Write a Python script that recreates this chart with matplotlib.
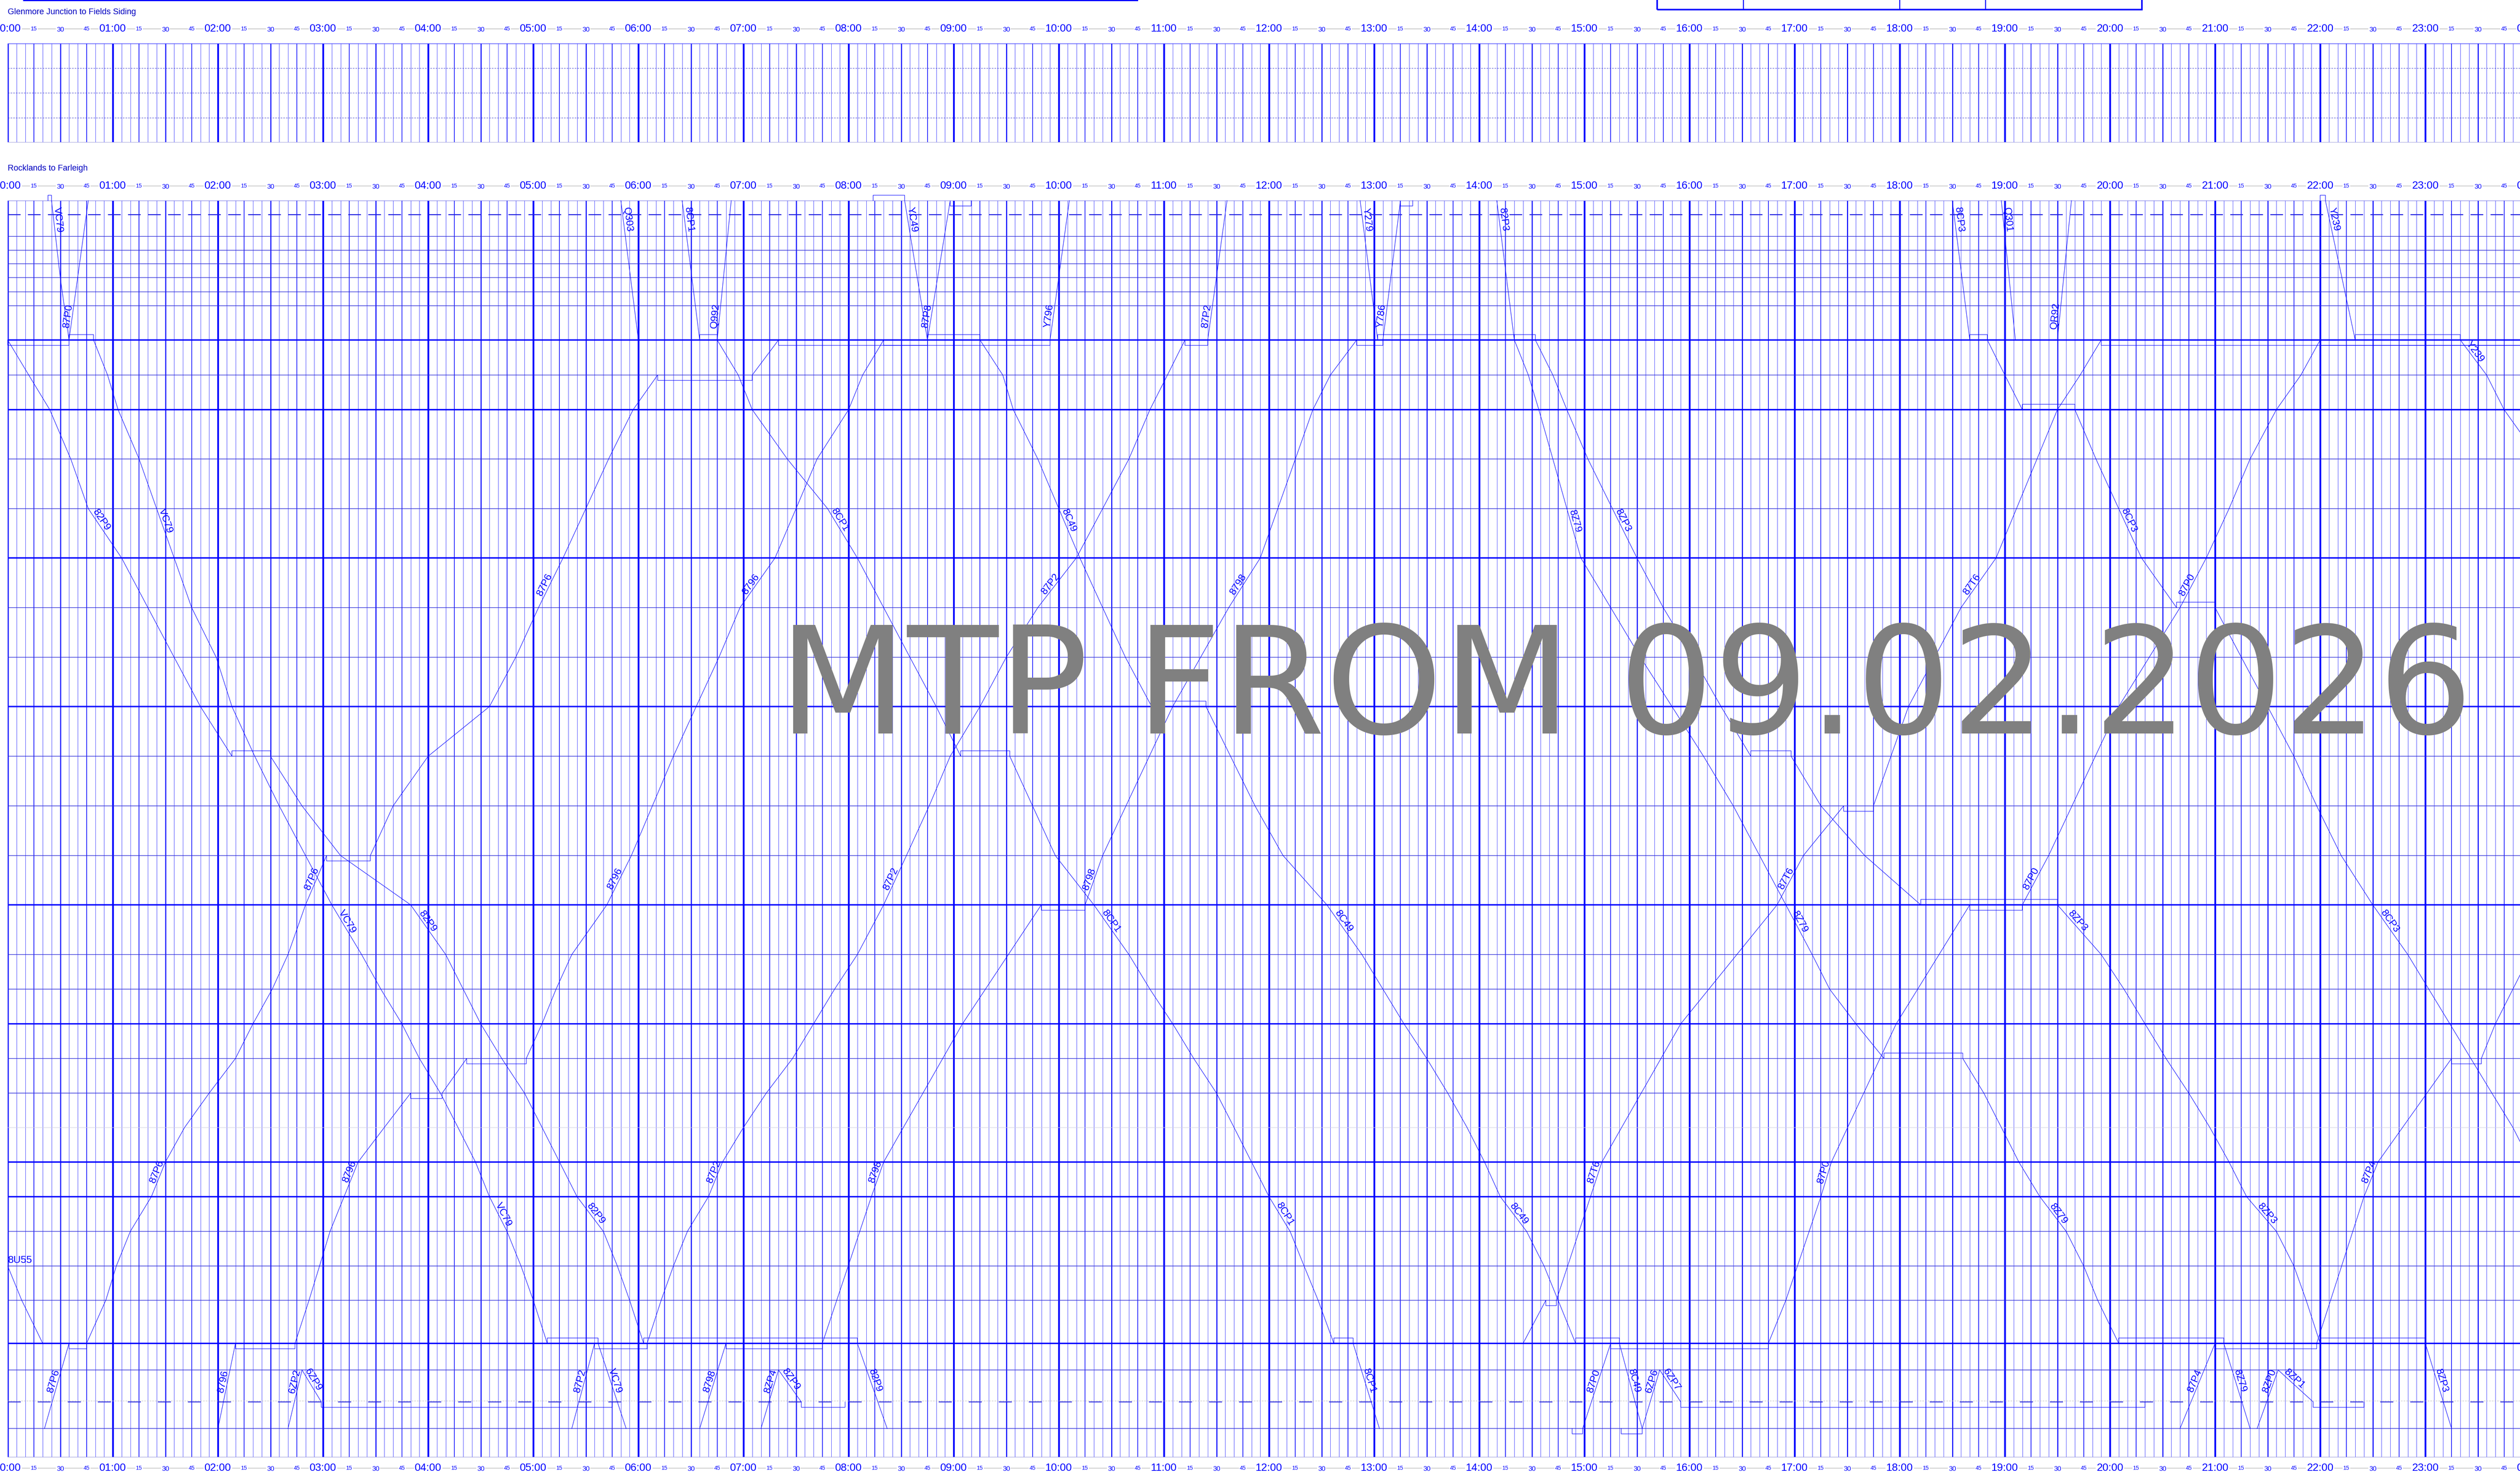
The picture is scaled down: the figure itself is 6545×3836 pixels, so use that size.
import matplotlib
matplotlib.use("Agg")
import matplotlib.pyplot as plt
from matplotlib.lines import Line2D
from matplotlib.patches import Rectangle
from matplotlib.transforms import blended_transform_factory
import math

W, H = 6545, 3836
PX = 0.72  # points per pixel at dpi 100
plt.rcParams["lines.scale_dashes"] = False
plt.rcParams["font.family"] = ["Liberation Sans", "DejaVu Sans"]

BLUE = "#0000ff"

# distance of each timing point from Rocklands (km, top to bottom)
STATION_KM = [0.0, 3.6, 9.3, 12.9, 16.4, 20.0, 23.7, 27.3, 36.2, 45.3, 54.3, 67.1,
              80.0, 92.8, 105.7, 118.6, 131.4, 144.3, 157.2, 170.1, 182.9, 195.8,
              204.8, 213.8, 222.8, 231.8, 240.7, 249.7, 258.7, 267.7, 276.7, 285.6,
              296.8, 303.7, 312.0, 318.9]
HEAVY = [8, 10, 13, 16, 20, 23, 27, 28, 32]
DASHED = [1, 34]
FAINT = [26]
LINE_END_KM = 326.4
SIDING = 34

# trains: (station index, time) or (station index, arrive, depart)
T_87P0A = [(8, "0:00", "0:35"), (0, "0:46")]
T_VC79 = [(0, "0:23", "0:25"), (5, "0:30"), (8, "0:35", "0:49"), (9, "0:57"), (10, "1:03"),
          (11, "1:15"), (12, "1:25"), (13, "1:35"), (14, "1:45"), (15, "1:59"), (16, "2:08"),
          (17, "2:21"), (18, "2:35"), (19, "2:50"), (20, "3:05"), (21, "3:22"), (22, "3:33"),
          (23, "3:45"), (24, "3:55"), (25, "4:07"), (26, "4:17"), (27, "4:27"), (28, "4:35"),
          (29, "4:45"), (30, "4:53"), (31, "5:00"), (32, "5:08", "5:37"), (35, "5:53")]
T_82P9 = [(8, "0:00"), (9, "0:12"), (10, "0:24"), (11, "0:36"), (12, "0:46"), (13, "1:05"),
          (14, "1:20"), (15, "1:35"), (16, "1:50"), (17, "2:08", "2:30"), (18, "2:48"),
          (19, "3:10"), (20, "3:50"), (21, "4:10"), (22, "4:20"), (23, "4:30"), (24, "4:42"),
          (25, "4:55"), (26, "5:05"), (27, "5:15"), (28, "5:25"), (29, "5:40"), (30, "5:48"),
          (31, "5:55"), (32, "6:03", "8:05"), (35, "8:22")]
T_8U55 = [(30, "0:00"), (31, "0:08"), (32, "0:20")]
T_87P6 = [(35, "0:21"), (32, "0:35", "0:45"), (31, "0:56"), (30, "1:02"), (29, "1:10"),
          (28, "1:22"), (27, "1:30"), (26, "1:41"), (25, "1:55"), (24, "2:10"), (23, "2:20"),
          (22, "2:31"), (21, "2:40"), (20, "2:50"), (19, "3:02", "3:27"), (18, "3:40"),
          (17, "4:00"), (16, "4:35"), (15, "4:50"), (14, "5:03"), (13, "5:17"), (12, "5:30"),
          (11, "5:43"), (10, "5:57"), (9, "6:11", "7:05"), (8, "7:20", "9:55")]
T_8796 = [(35, "2:00"), (32, "2:10", "2:44"), (31, "2:52"), (30, "2:58"), (29, "3:04"),
          (28, "3:12"), (27, "3:20"), (26, "3:35"), (25, "3:50", "4:08"), (24, "4:22", "4:56"),
          (23, "5:05"), (22, "5:13"), (21, "5:22"), (20, "5:42"), (19, "5:56"), (18, "6:08"),
          (17, "6:20"), (16, "6:33"), (15, "6:46"), (14, "6:58"), (13, "7:18"), (12, "7:30"),
          (11, "7:42"), (10, "8:00"), (9, "8:08"), (8, "8:20", "8:45")]
T_6ZP2 = [(35, "2:40"), (33, "2:48")]
T_6ZP9 = [(33, "2:48"), (34, "2:59", "5:45")]
T_87P2 = [(35, "5:22"), (32, "5:35", "6:05"), (31, "6:13"), (30, "6:20"), (29, "6:28"),
          (28, "6:40"), (27, "6:48"), (26, "7:00"), (25, "7:13"), (24, "7:28"), (23, "7:40"),
          (22, "7:52"), (21, "8:05"), (20, "8:20"), (19, "8:33"), (18, "8:46"), (17, "8:58"),
          (16, "9:15"), (15, "9:30"), (14, "9:48"), (13, "10:10"), (12, "10:25"),
          (11, "10:40"), (10, "10:52"), (9, "11:02"), (8, "11:12", "11:25"), (0, "11:36")]
T_Q303 = [(0, "5:50"), (8, "6:00")]
T_8CP1 = [(0, "6:25"), (8, "6:35", "6:45"), (9, "6:57"), (10, "7:05"), (11, "7:25"),
          (12, "7:48"), (13, "8:05"), (14, "8:20"), (15, "8:35"), (16, "8:50"),
          (17, "9:04", "9:32"), (18, "9:45"), (19, "9:58"), (20, "10:20"), (21, "10:40"),
          (22, "10:52"), (23, "11:05"), (24, "11:17"), (25, "11:30"), (26, "11:40"),
          (27, "11:50"), (28, "12:00"), (29, "12:12"), (30, "12:20"), (31, "12:28"),
          (32, "12:37", "12:48"), (35, "13:03")]
T_Q992 = [(8, "6:45"), (0, "6:53")]
T_8798 = [(35, "6:35"), (32, "6:50", "7:45"), (28, "8:13"), (27, "8:20"), (23, "9:05"),
          (20, "9:50", "10:15"), (19, "10:25"), (16, "11:05"), (14, "11:37"), (13, "11:55"),
          (10, "12:25"), (9, "12:35"), (8, "12:50", "13:05")]
T_8ZP4 = [(35, "7:10"), (33, "7:20")]
T_8ZP9 = [(33, "7:20"), (34, "7:33", "7:58")]
T_YC49 = [(0, "8:14", "8:32"), (8, "8:45", "9:15")]
T_87P8 = [(8, "8:45"), (0, "8:58", "9:10")]
T_8C49 = [(8, "9:15"), (9, "9:28"), (10, "9:34"), (11, "9:48"), (12, "10:00"), (13, "10:12"),
          (14, "10:25"), (15, "10:38"), (16, "10:53", "11:24"), (17, "11:38"), (18, "11:52"),
          (19, "12:08"), (20, "12:33"), (21, "12:53"), (22, "13:05"), (23, "13:17"),
          (24, "13:30"), (25, "13:42"), (26, "13:53"), (27, "14:03"), (28, "14:12"),
          (29, "14:27"), (30, "14:37"), (31, "14:45"), (32, "14:55", "15:20"), (35, "15:33")]
T_Y796 = [(8, "9:55"), (0, "10:06")]
T_Y279 = [(0, "12:52"), (8, "13:02", "14:20")]
T_Y786 = [(8, "13:05"), (0, "13:15", "13:22")]
T_8Z79 = [(8, "14:20"), (9, "14:28"), (10, "14:34"), (11, "14:42"), (12, "14:50"),
          (13, "14:58"), (14, "15:15"), (15, "15:32"), (16, "15:50"), (17, "16:08"),
          (18, "16:25"), (19, "16:40"), (20, "16:55"), (21, "17:10"), (22, "17:20"),
          (23, "17:35"), (24, "17:51", "18:36"), (25, "18:48"), (26, "18:58"), (27, "19:08"),
          (28, "19:20"), (29, "19:35"), (30, "19:45"), (31, "19:53"), (32, "20:05", "21:05"),
          (35, "21:20")]
T_82P3 = [(0, "14:10"), (8, "14:20", "14:32")]
T_8ZP3 = [(8, "14:32"), (9, "14:42"), (10, "14:50"), (11, "15:02"), (12, "15:16"),
          (13, "15:30"), (14, "15:45"), (15, "16:02"), (16, "16:18"), (17, "16:35", "16:58"),
          (18, "17:15"), (19, "17:40"), (20, "18:12", "19:30"), (21, "19:55"), (22, "20:08"),
          (23, "20:20"), (24, "20:32"), (25, "20:45"), (26, "20:57"), (27, "21:08"),
          (28, "21:18"), (29, "21:35"), (30, "21:45"), (31, "21:52"), (32, "22:00", "23:00"),
          (35, "23:15")]
T_87T6 = [(32, "14:25"), (31, "14:38", "14:44"), (27, "15:10"), (23, "15:55"), (20, "16:50"),
          (19, "17:05"), (18, "17:28", "17:45"), (16, "18:05"), (14, "18:35"), (13, "18:55"),
          (10, "19:30"), (9, "19:43"), (8, "19:55", "24:30")]
T_87P0 = [(35, "14:53", "14:59"), (32, "15:15", "16:45"), (31, "16:55"), (28, "17:15"),
          (27, "17:21"), (23, "17:58"), (20, "18:40", "19:10"), (19, "19:25"), (16, "20:05"),
          (14, "20:40"), (13, "20:55"), (12, "21:08"), (11, "21:20"), (10, "21:35"),
          (9, "21:49"), (8, "22:00", "24:30")]
T_6ZP6 = [(35, "15:21", "15:33"), (33, "15:43")]
T_6ZP7 = [(33, "15:43"), (34, "15:55", "20:20")]
T_8CP3 = [(0, "18:30"), (8, "18:40", "18:50"), (9, "19:00"), (10, "19:10", "19:40"),
          (11, "19:52"), (12, "20:05"), (13, "20:18"), (14, "20:38", "21:00"), (15, "21:15"),
          (16, "21:30"), (17, "21:45"), (18, "21:58"), (19, "22:12"), (20, "22:30"),
          (21, "22:50"), (22, "23:02"), (23, "23:14"), (24, "23:26"), (25, "23:38"),
          (26, "23:50"), (27, "24:00"), (28, "24:10")]
T_Q301 = [(0, "18:58"), (8, "19:06")]
T_QR92 = [(8, "19:30"), (0, "19:38")]
T_87P4 = [(35, "20:40"), (32, "21:00", "21:58"), (28, "22:25"), (27, "22:33"),
          (24, "23:15", "23:32"), (23, "23:40"), (22, "23:50"), (21, "24:00"), (20, "24:10")]
T_8ZP0 = [(35, "21:24"), (33, "21:36")]
T_8ZP1 = [(33, "21:36"), (34, "21:56", "22:25")]
T_Y239 = [(0, "22:00", "22:03"), (8, "22:20", "23:20"), (9, "23:35"), (10, "23:45"),
          (11, "24:05")]

TRAINS = [
    ("87P0", T_87P0A), ("VC79", T_VC79), ("82P9", T_82P9), ("8U55", T_8U55),
    ("87P6", T_87P6), ("8796", T_8796), ("6ZP2", T_6ZP2), ("6ZP9", T_6ZP9),
    ("87P2", T_87P2), ("Q303", T_Q303), ("8CP1", T_8CP1), ("Q992", T_Q992),
    ("8798", T_8798), ("YC49", T_YC49), ("87P8", T_87P8), ("8C49", T_8C49),
    ("Y796", T_Y796), ("Y279", T_Y279), ("Y786", T_Y786), ("8Z79", T_8Z79),
    ("82P3", T_82P3), ("8ZP3", T_8ZP3), ("87T6", T_87T6), ("87P0", T_87P0),
    ("6ZP6", T_6ZP6), ("6ZP7", T_6ZP7), ("8CP3", T_8CP3), ("Q301", T_Q301),
    ("QR92", T_QR92), ("87P4", T_87P4), ("Y239", T_Y239),
    ("8ZP4", T_8ZP4), ("8ZP9", T_8ZP9), ("8ZP0", T_8ZP0), ("8ZP1", T_8ZP1),
]

# where along each train the headcode is written (km)
LABEL_KM = [
    [30.1], [5.1, 83.6, 187.9, 263.9, 306.9], [83.6, 187.9, 263.9, 306.9], [],
    [306.9, 252.6, 176.6, 100.3], [306.9, 252.6, 176.6, 100.3], [306.9], [306.9],
    [306.9, 252.6, 176.6, 100.3, 30.1], [5.1], [5.1, 83.6, 187.9, 263.9, 306.9], [30.1],
    [306.9, 252.6, 176.6, 100.3], [5.1], [30.1], [83.6, 187.9, 263.9, 306.9],
    [30.1], [5.1], [30.1], [83.6, 187.9, 263.9, 306.9],
    [5.1], [83.6, 187.9, 263.9, 306.9], [252.6, 176.6, 100.3], [306.9, 252.6, 176.6, 100.3],
    [306.9], [306.9], [5.1, 83.6, 187.9], [5.1],
    [30.1], [306.9, 252.6], [5.1, 40.0],
    [306.9], [306.9], [306.9], [306.9],
]


def hm(s):
    h, m = s.split(":")
    return int(h) + int(m) / 60.0


def build_path(stops):
    down = stops[-1][0] > stops[0][0]
    pts = []
    for st in stops:
        y = STATION_KM[st[0]]
        t1 = hm(st[1])
        if len(st) == 2:
            pts.append((t1, y))
        else:
            t2 = hm(st[2])
            side = 1 if (not down or st[0] == SIDING) else -1
            off = side * 1.4
            pts += [(t1, y), (t1, y + off), (t2, y + off), (t2, y)]
    return pts


fig = plt.figure(figsize=(W / 100, H / 100), dpi=100)
X0 = 20
HOURS = (W - X0) / 273.0


def add_grid(ax):
    tr = ax.get_xaxis_transform()
    ticks = [i / 12 for i in range(0, 12 * 24 + 1)]
    for i, t in enumerate(ticks):
        if i % 12 == 0:
            lw, c = 4.5, BLUE
        elif i % 6 == 0:
            lw, c = 2.6, BLUE
        elif i % 3 == 0:
            lw, c = 1.7, BLUE
        else:
            lw, c = 1.0, "#3a3aff"
        ax.vlines(t, 0, 1, transform=tr, color=c, lw=lw * PX, zorder=1)
    ax.set_xlim(0, HOURS)
    ax.set_xticks([])
    ax.set_yticks([])
    for s in ax.spines.values():
        s.set_visible(False)


# upper panel: Glenmore Junction to Fields Siding
ax1 = fig.add_axes([X0 / W, 1 - 370 / H, 1 - X0 / W, 257 / H])
add_grid(ax1)
ax1.set_ylim(4, 0)
ytr1 = ax1.get_yaxis_transform()
ax1.hlines([1, 2, 3], 0, 1, transform=ytr1, color="#3030c8", lw=1.0 * PX,
           linestyles=[(0, (3, 2))], zorder=2)
ax1.hlines(0, 0, 1, transform=ytr1, color=BLUE, lw=2 * PX, zorder=2)
ax1.hlines(4, 0, 1, transform=ytr1, color="#9a9ad8", lw=2 * PX, zorder=2)

# lower panel: Rocklands to Farleigh
ax2 = fig.add_axes([X0 / W, 1 - 3785 / H, 1 - X0 / W, 3264 / H])
add_grid(ax2)
ax2.set_ylim(LINE_END_KM, 0)
ytr2 = ax2.get_yaxis_transform()
for i, km in enumerate(STATION_KM):
    if i in DASHED:
        if i == 1:
            ax2.hlines(km, 0, 1, transform=ytr2, color="#2020e0", lw=2.6 * PX,
                       linestyles=[(0, (33 * PX, 19 * PX))], zorder=2)
        else:
            ax2.hlines(km - 0.3, 0, 1, transform=ytr2, color="#bbbbbb", lw=1.2 * PX,
                       linestyles=[(0, (3, 2))], zorder=2)
            ax2.hlines(km, 0, 1, transform=ytr2, color="#2020e0", lw=2.2 * PX,
                       linestyles=[(0, (34 * PX, 44 * PX))], zorder=2)
    elif i in HEAVY:
        ax2.hlines(km, 0, 1, transform=ytr2, color=BLUE, lw=3.6 * PX, zorder=2)
    elif i in FAINT:
        ax2.hlines(km, 0, 1, transform=ytr2, color="#d0d0e4", lw=1.2 * PX, zorder=2)
    else:
        ax2.hlines(km, 0, 1, transform=ytr2, color="#2a2ad8", lw=1.5 * PX, zorder=2)
ax2.hlines(LINE_END_KM, 0, 1, transform=ytr2, color="#9a9ad8", lw=2.4 * PX, zorder=2)

# trains
for (name, stops), rows in zip(TRAINS, LABEL_KM):
    pts = build_path(stops)
    ax2.plot([p[0] for p in pts], [p[1] for p in pts], color=BLUE, lw=1.2 * PX,
             zorder=3, clip_on=False, solid_joinstyle="miter")
    for km in rows:
        for (t0, y0), (t1, y1) in zip(pts[:-1], pts[1:]):
            if t1 > t0 and y0 != y1 and min(y0, y1) <= km <= max(y0, y1):
                f = (km - y0) / (y1 - y0)
                t = t0 + f * (t1 - t0)
                p0 = ax2.transData.transform((t0, y0))
                p1 = ax2.transData.transform((t1, y1))
                ang = math.degrees(math.atan2(p1[1] - p0[1], p1[0] - p0[0]))
                ax2.text(t, km, name, rotation=ang, rotation_mode="anchor",
                         ha="center", va="bottom", fontsize=19, color=BLUE,
                         zorder=4, clip_on=False)
                break

ax2.text(0.003, STATION_KM[30] - 0.3, "8U55", ha="left", va="bottom", fontsize=19,
         color=BLUE, zorder=4)


# time scales
def time_scale(ypx):
    tr = blended_transform_factory(ax2.transData, fig.transFigure)
    yf = 1 - ypx / H
    fig.add_artist(Line2D([0, 1], [yf, yf], transform=fig.transFigure,
                          color="#c4c4c4", lw=1.8 * PX, zorder=1))
    for q in range(0, 24 * 4 + 1):
        t = q / 4
        dy = 0
        if q % 4 == 0:
            txt, fs = "%02d:00" % ((q // 4) % 24), 20
        elif q % 4 == 2:
            txt, fs, dy = "30", 12.5, 2.5
        else:
            txt, fs = str((q % 4) * 15), 10.5
        fig.text(t, yf - dy / H, txt, transform=tr, ha="center", va="center", fontsize=fs,
                 color=BLUE, zorder=2,
                 bbox=dict(facecolor="white", edgecolor="none", pad=1.5))


time_scale(75)
time_scale(483)
time_scale(3813)

fig.text(X0 / W, 1 - 31 / H, "Glenmore Junction to Fields Siding", ha="left",
         va="center", fontsize=15.5, color="#0000c0")
fig.text(X0 / W, 1 - 438 / H, "Rocklands to Farleigh", ha="left", va="center",
         fontsize=15.5, color="#0000c0")

# header remnants at the top edge
fig.add_artist(Line2D([63 / W, 2953 / W], [1, 1], transform=fig.transFigure,
                      color=BLUE, lw=6 * PX, zorder=3))
fig.add_artist(Rectangle((4304 / W, 1 - 25 / H), (5563 - 4304) / W, 80 / H,
                         transform=fig.transFigure, fill=False, edgecolor=BLUE,
                         lw=4 * PX, zorder=3))
for xd in [4528, 4934, 5157]:
    fig.add_artist(Line2D([xd / W, xd / W], [1 - 25 / H, 1], transform=fig.transFigure,
                          color=BLUE, lw=2.5 * PX, zorder=3))

# watermark
fig.text(4222 / W, 1 - 1905 / H, "MTP FROM 09.02.2026", ha="center", va="baseline",
         fontsize=279, color="#808080", family="DejaVu Sans", zorder=10)

fig.savefig("out.png", dpi=100)
